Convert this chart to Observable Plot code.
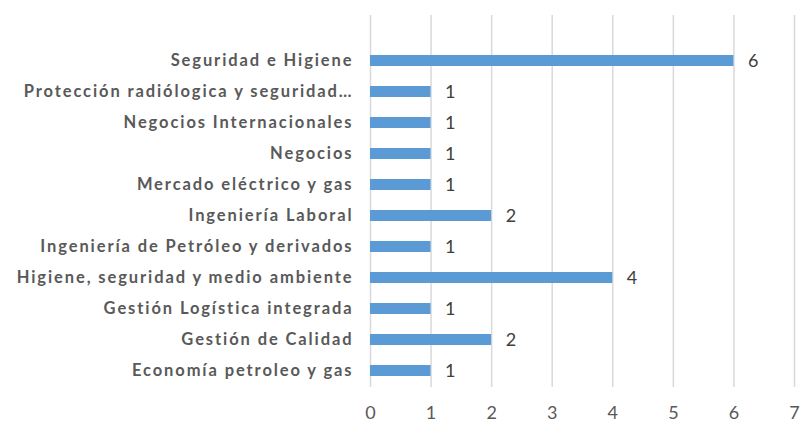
<!DOCTYPE html>
<html>
<head>
<meta charset="utf-8">
<script src="https://cdn.jsdelivr.net/npm/d3@7"></script>
<script src="https://cdn.jsdelivr.net/npm/@observablehq/plot@0.6"></script>
<style>
  html, body { margin: 0; padding: 0; background: #fff; }
  #chart svg { display: block; }
  #chart g[aria-label="y-axis tick label"] text { letter-spacing: 1.9px; }
</style>
</head>
<body>
<div id="chart"></div>
<script>
const categories = [
  "Seguridad e Higiene",
  "Protección radiólogica y seguridad…",
  "Negocios Internacionales",
  "Negocios",
  "Mercado eléctrico y gas",
  "Ingeniería Laboral",
  "Ingeniería de Petróleo y derivados",
  "Higiene, seguridad y medio ambiente",
  "Gestión Logística integrada",
  "Gestión de Calidad",
  "Economía petroleo y gas"
];
const values = [6, 1, 1, 1, 1, 2, 1, 4, 1, 2, 1];
const xTicks = [0, 1, 2, 3, 4, 5, 6, 7];

const data = categories.map((c, i) => ({category: c, value: values[i]}));

const chart = Plot.plot({
  width: 801,
  height: 423,
  marginTop: 15,
  marginBottom: 36,
  marginLeft: 370,
  marginRight: 7,
  style: {fontFamily: "Lato, sans-serif", background: "#fff"},
  x: {domain: [0, 7], ticks: xTicks, label: null},
  y: {domain: categories, range: [44, 387], paddingInner: 0.64, paddingOuter: 0.32, label: null},
  marks: [
    Plot.ruleX(xTicks, {stroke: "#d9d9d9", strokeWidth: 1.5}),
    Plot.axisX({ticks: xTicks, tickFormat: d => String(d), tickSize: 0, tickPadding: 19, fontSize: 18, fill: "#595959", label: null}),
    Plot.axisY({tickSize: 0, tickPadding: 17, fontSize: 16.5, fontWeight: "bold", fill: "#595959", label: null}),
    Plot.barX(data, {x: "value", y: "category", fill: "#5b9bd5"}),
    Plot.text(data, {x: "value", y: "category", text: d => String(d.value), textAnchor: "start", dx: 14, fontSize: 18, fill: "#404040"})
  ]
});
document.getElementById("chart").appendChild(chart);
</script>
</body>
</html>
